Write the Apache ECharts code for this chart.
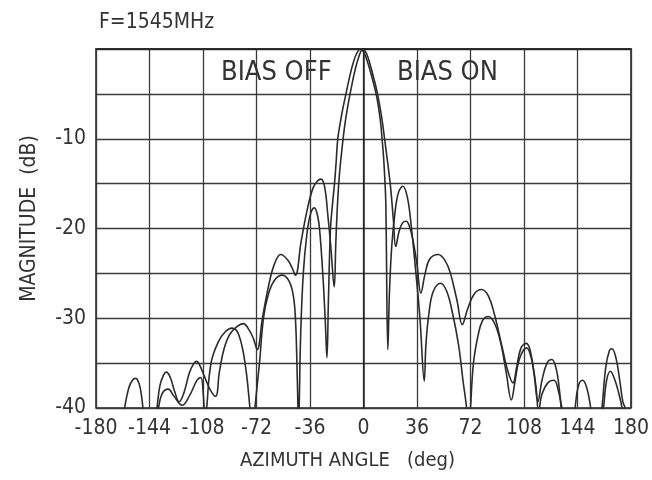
<!DOCTYPE html>
<html><head><meta charset="utf-8">
<script src="https://cdn.jsdelivr.net/npm/echarts@6/dist/echarts.min.js"></script>
<style>html,body{margin:0;padding:0;background:#fff}#c{width:652px;height:480px}</style>
</head><body><div id="c"></div>
<script>
const FONT = "'DejaVu Sans Condensed', 'DejaVu Sans', sans-serif";
const titleText = 'F=1545MHz';
const xName = 'AZIMUTH ANGLE   (deg)';
const yName = 'MAGNITUDE  (dB)';
const seriesNames = ['BIAS OFF', 'BIAS ON'];
const xTicks = [-180, -144, -108, -72, -36, 0, 36, 72, 108, 144, 180];
const yTickLabels = [-10, -20, -30, -40];

// BIAS OFF (deep nulls, beam slightly left)
const offAngle = [-180,-141,-138,-135.5,-131.4,-127.5,-122,-117,-112,-109.5,-107.8,-106.5,-105.5,-102.6,-97.6,-93,-88.5,-84,-79.7,-76.4,-74.8,-73.1,-70,-67.3,-64.3,-60,-54.6,-50,-47.2,-45.8,-44.8,-44.1,-43.8,-43.3,-42.3,-40.5,-38,-35.5,-33,-31,-29.6,-27.4,-25.8,-24.6,-23.6,-22.2,-20.8,-19.5,-18.4,-17.3,-15.4,-13.6,-11.8,-9.6,-7.2,-4.6,-2.0,0.6,3.0,5.6,8.5,10.4,11.6,12.5,13.4,14.2,15.0,16.4,17.5,19,21,23.5,26.5,29.5,32,35,38,40.9,42,44,47,51.9,56,60,64,67,69.4,70.7,72,74,77,80,83.9,88,92,96,99.5,102,105,109.8,113,116,117.9,120,124,128.2,131,133.5,135,159.5,161.5,163.5,166.1,169,172,174,175.5,180];
const offDb = [-42,-42,-40,-38.4,-37.9,-38.7,-39.7,-38.6,-36.9,-36.6,-38.5,-42,-40,-35,-32.6,-31.5,-31.1,-31.8,-35,-40,-43,-40,-35,-30,-27.5,-25.8,-25.2,-25.9,-27.5,-30,-35,-40,-42,-40,-32,-25,-20.5,-18.3,-17.7,-18.5,-20,-25,-30,-34.4,-28,-20,-17.2,-15,-12.6,-10,-8,-6.4,-5,-3.3,-1.7,-0.5,0,-0.5,-1.6,-3.1,-5,-6.8,-8.3,-10,-11.8,-14,-17,-33.5,-27,-22,-18.5,-16,-15.3,-16.5,-19.5,-24.5,-30,-37,-33,-29.5,-27,-26.1,-27,-29.5,-33,-37,-40,-43,-40,-35,-32,-30.3,-29.8,-30.5,-32.5,-36,-39.1,-37,-34.5,-33.3,-34.5,-37.5,-40.5,-38.5,-37.2,-36.9,-38,-40,-42,-42,-40,-37,-35.9,-36.8,-38.5,-40,-42,-42];

// BIAS ON (filled nulls, beam slightly right)
const onAngle = [-180,-163,-160.8,-158,-155.5,-153.3,-151,-149.5,-148.4,-147,-141,-139,-137,-134.5,-132.6,-130,-127,-124,-121,-117,-114,-112.3,-110,-107,-103,-99.5,-97,-94,-90,-85,-80.8,-77,-74,-71.5,-68,-64,-60,-55.7,-51,-48,-45.8,-42,-38,-34,-31,-28.5,-26,-24,-22,-19.7,-18.6,-17.4,-16.2,-14.4,-12.6,-10.6,-8.2,-5.6,-3.0,-0.4,2.0,4.6,7.0,9.2,10.9,12.6,14.2,15.6,17.0,18.3,20.1,21.7,24,26.2,28.7,31,33.5,36,38.6,41.5,44.6,50.3,55,58.5,62.9,66.5,70,74.5,79.4,84,88,93,97,100.6,103,106,109.6,112.5,115,117.4,120,123.5,126.8,129.5,131.5,133,134,141,142.4,144.5,147.3,150,152.9,154,159,160.5,163,165.5,167.2,170,172.5,174.5,176,177,180];
const onDb = [-42,-42,-40,-37.8,-36.9,-36.7,-37.3,-38.5,-40,-42,-42,-40,-37.5,-36.3,-36,-36.6,-38.2,-39.3,-38.4,-36,-35,-34.8,-35.3,-36.5,-38,-38.7,-36,-33.5,-31.8,-30.9,-30.6,-31.3,-32.3,-33.5,-30,-26.5,-24,-22.9,-23.5,-24.4,-25.2,-21.5,-18,-15.5,-14.7,-14.5,-15.5,-18.5,-22,-26.5,-21.5,-17,-14,-11,-8.5,-6.4,-4.3,-2.3,-0.8,0,-0.5,-1.8,-3.3,-4.8,-6.3,-8,-10,-11.8,-13.6,-15.5,-19,-22,-20.3,-19.4,-19.2,-19.8,-21.5,-24,-27.2,-25,-23.4,-22.9,-23.6,-25,-28,-30.7,-29,-27.3,-26.8,-27.5,-29.5,-33,-35.8,-37.2,-35.5,-33.3,-32.8,-33.8,-36.5,-39.3,-37,-35,-34.6,-35.5,-37.5,-40,-42,-42,-40,-37.6,-36.9,-37.6,-40,-42,-42,-40,-35.5,-33.6,-33.4,-34.5,-37,-39.3,-40,-42,-42];

function zip(a, b) { return a.map((v, i) => [v, b[i]]); }

const chart = echarts.init(document.getElementById('c'), null, { renderer: 'canvas' });
const lineColor = '#2b2b2b';
chart.setOption({
  animation: false,
  backgroundColor: '#ffffff',
  title: {
    text: titleText, left: 94, top: 7,
    textStyle: { fontFamily: FONT, fontSize: 21, fontWeight: 'normal', color: '#333' }
  },
  grid: { left: 96, right: 16, top: 49, bottom: 72, show: true, borderColor: '#222', borderWidth: 1.5, backgroundColor: 'transparent' },
  xAxis: {
    type: 'value', min: xTicks[0], max: xTicks[xTicks.length - 1], interval: 36,
    name: xName, nameLocation: 'middle', nameGap: 43,
    nameTextStyle: { fontFamily: FONT, fontSize: 20, color: '#333', padding: [0, 32, 0, 0] },
    axisLine: { show: true, lineStyle: { color: '#222', width: 1.5 } },
    axisTick: { show: false },
    axisLabel: { fontFamily: FONT, fontSize: 21, color: '#333', margin: 10,
      formatter: v => xTicks.includes(v) ? String(v) : '' },
    splitLine: { show: true, lineStyle: { color: '#3a3a3a', width: 1.3 } }
  },
  yAxis: {
    type: 'value', min: -40, max: 0, interval: 5,
    name: yName, nameLocation: 'middle', nameGap: 56, nameRotate: 90,
    nameTextStyle: { fontFamily: FONT, fontSize: 21, color: '#333', padding: [0, 0, 0, 20] },
    axisLine: { show: true, lineStyle: { color: '#222', width: 1.5 } },
    axisTick: { show: false },
    axisLabel: { fontFamily: FONT, fontSize: 21, color: '#333', margin: 10,
      formatter: v => yTickLabels.includes(v) ? String(v) : '' },
    splitLine: { show: true, lineStyle: { color: '#3a3a3a', width: 1.3 } }
  },
  graphic: [
    { type: 'text', left: 221, top: 59, z: 10, style: { text: seriesNames[0], fontFamily: FONT, fontSize: 27, fill: '#333' } },
    { type: 'text', left: 397, top: 59, z: 10, style: { text: seriesNames[1], fontFamily: FONT, fontSize: 27, fill: '#333' } }
  ],
  series: [
    { name: seriesNames[0], type: 'line', data: zip(offAngle, offDb), showSymbol: false, smooth: 0.4, clip: true,
      lineStyle: { color: lineColor, width: 1.6 } },
    { name: seriesNames[1], type: 'line', data: zip(onAngle, onDb), showSymbol: false, smooth: 0.4, clip: true,
      lineStyle: { color: lineColor, width: 1.6 } }
  ]
});
</script>
</body></html>
